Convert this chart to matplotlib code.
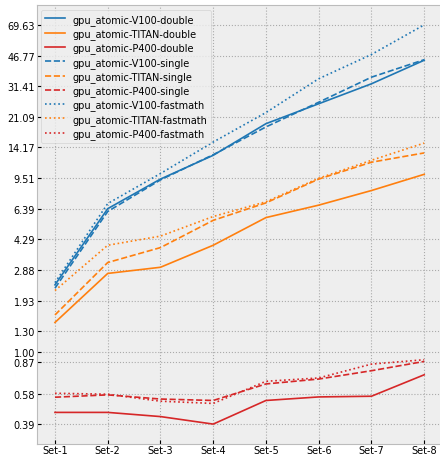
import numpy as np
import matplotlib
matplotlib.use("Agg")
from matplotlib import pyplot as plt

sets = ["Set-1", "Set-2", "Set-3", "Set-4", "Set-5", "Set-6", "Set-7", "Set-8"]

v100_double = [2.38, 6.40, 9.40, 12.8, 19.3, 25.0, 32.4, 44.0]
titan_double = [1.46, 2.76, 2.99, 3.98, 5.70, 6.70, 8.10, 10.0]
p400_double = [0.454, 0.454, 0.43, 0.39, 0.53, 0.555, 0.56, 0.74]
v100_single = [2.28, 6.17, 9.30, 12.9, 18.5, 25.5, 35.3, 44.3]
titan_single = [1.61, 3.18, 3.86, 5.50, 6.90, 9.40, 11.7, 13.2]
p400_single = [0.553, 0.57, 0.54, 0.53, 0.657, 0.70, 0.78, 0.88]
v100_fastmath = [2.45, 6.84, 10.1, 15.2, 22.3, 34.6, 47.4, 69.63]
titan_fastmath = [2.21, 3.98, 4.48, 5.78, 7.00, 9.50, 12.0, 15.0]
p400_fastmath = [0.582, 0.575, 0.525, 0.51, 0.68, 0.71, 0.85, 0.90]

yticks = [0.39, 0.58, 0.87, 1.00, 1.30, 1.93, 2.88, 4.29, 6.39, 9.51,
          14.17, 21.09, 31.41, 46.77, 69.63]

plt.style.use("bmh")
plt.rcParams["font.size"] = 7

fig = plt.figure(figsize=(4.4, 4.56), dpi=100)
ax = fig.add_axes([0.083, 0.024, 0.923, 0.963])

x = np.arange(len(sets))
series = [
    ("gpu_atomic-V100-double", v100_double, "tab:blue", "-"),
    ("gpu_atomic-TITAN-double", titan_double, "tab:orange", "-"),
    ("gpu_atomic-P400-double", p400_double, "tab:red", "-"),
    ("gpu_atomic-V100-single", v100_single, "tab:blue", "--"),
    ("gpu_atomic-TITAN-single", titan_single, "tab:orange", "--"),
    ("gpu_atomic-P400-single", p400_single, "tab:red", "--"),
    ("gpu_atomic-V100-fastmath", v100_fastmath, "tab:blue", ":"),
    ("gpu_atomic-TITAN-fastmath", titan_fastmath, "tab:orange", ":"),
    ("gpu_atomic-P400-fastmath", p400_fastmath, "tab:red", ":"),
]
for name, vals, col, ls in series:
    ax.plot(x, vals, color=col, linestyle=ls, linewidth=1.2, label=name)

ax.set_yscale("log")
ax.set_yticks(yticks)
ax.set_yticklabels(["%.2f" % t for t in yticks])
ax.minorticks_off()
ax.set_xticks(x)
ax.set_xticklabels(sets)
ax.tick_params(axis="both", length=3, pad=1)
ax.grid(True, linestyle=":", color="#aaaaaa", linewidth=0.8)
ax.legend(loc="upper left", fontsize=7, labelspacing=0.35)

fig.savefig("out.png", dpi=100)
